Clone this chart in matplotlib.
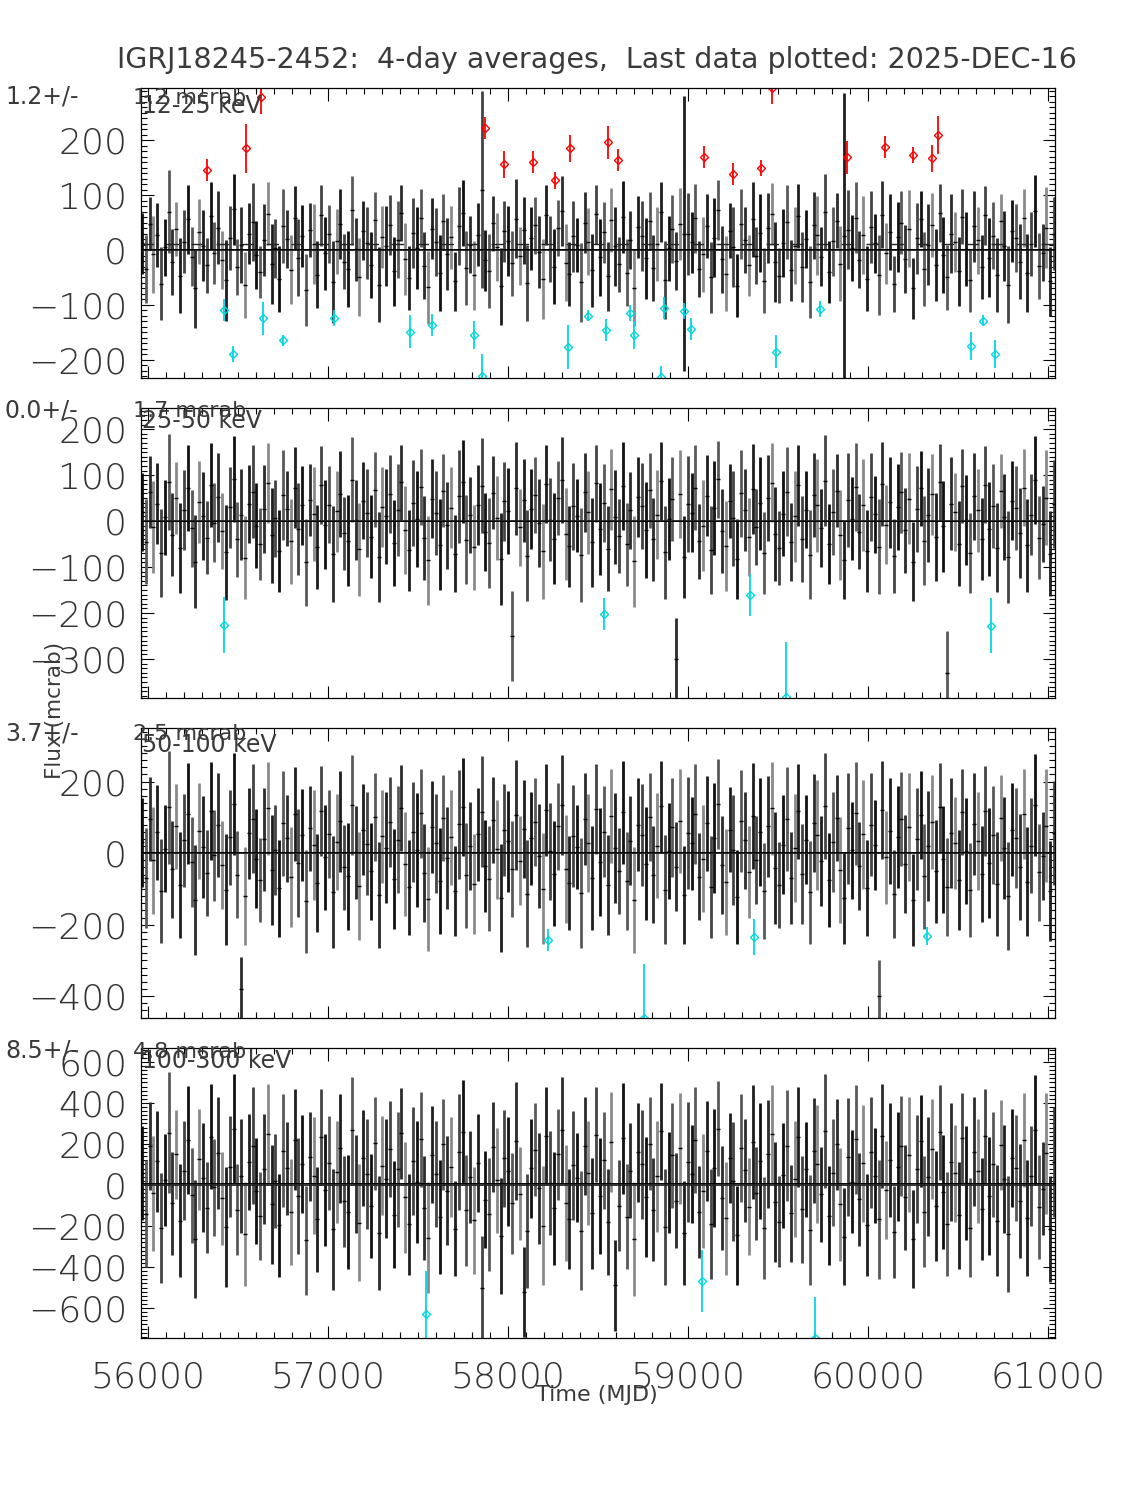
import numpy as np
import matplotlib
matplotlib.use('Agg')
import matplotlib.pyplot as plt
from matplotlib.ticker import MultipleLocator

plt.rcParams['font.family'] = ['DejaVu Sans']

title = "IGRJ18245-2452:  4-day averages,  Last data plotted: 2025-DEC-16"
bands = ["12-25 keV", "25-50 keV", "50-100 keV", "100-300 keV"]
means = [1.2, 0.0, 3.7, 8.5]
mean_errs = [1.2, 1.7, 2.5, 4.8]

# bin centres (MJD) run from first to last bin
t_first, t_last = 55965, 61035

# ---- 12-25 keV
p1_val = [12, -35, 48, -8, 27, -61, 5, 70, -22, 38, -47, 15, 56, -12, -70, 33, 8, -28, 62, -5,
          41, -18, -55, 22, 74, -31, 9, -64, 30, 51, -9, -40, 18, 66, -25, 3, -52, 44, 20, -36,
          58, -14, 26, -73, 37, 11, -45, 63, -6, 29, -58, 16, 47, -21, -34, 72, 1, -49, 35, 13,
          -27, 54, -63, 24, 8, 46, -39, 19, 67, -16, -51, 31, 4, 59, -29, -68, 39, 14, -42, 52,
          -7, 23, -57, 43, 68, -33, 10, -46, 28, 110, -19, -38, 49, 6, -66, 34, 17, -24, 57, -11,
          36, -60, 21, 45, -4, -53, 64, 2, -30, 40, 71, -23, -44, 25, 9, -59, 50, 15, -37, 65,
          -13, 32, -48, 55, 7, -26, 60, -41, 18, -69, 42, 26, -15, 53, -32, 11, 69, -54, 3, 38,
          -20, 47, 30, 29, 14, 58, -35, -8, 44, -50, 22, 73, -17, -43, 35, 5, -65, 48, 19, -28,
          56, -10, 31, -56, 40, 66, -22, -47, 13, 51, -37, 8, 62, -31, 20, -58, 45, 27, -12, 70,
          -40, 16, 53, -25, 25, 37, 4, 59, -18, 28, -52, 42, 12, -45, 64, -6, 33, -61, 24, 50,
          -16, 39, -70, 21, 57, -34, 10, 46, -27, 68, -9, -50, 30, 15, -39, 61, 2, -55, 43, 18,
          -31, 63, -14, 26, -46, 52, 7, -63, 35, 22, -21, 58, -42, 11, 71, -29, -5, 41, -57, 30]
p1_err = [55, 62, 48, 70, 58, 66, 52, 75, 60, 49, 68, 57, 63, 54, 72, 59, 65, 50, 61, 56,
          67, 53, 74, 58, 64, 51, 69, 60, 55, 71, 62, 48, 66, 57, 73, 54, 60, 68, 52, 63,
          58, 70, 56, 65, 49, 72, 61, 55, 67, 53, 74, 59, 64, 50, 69, 62, 57, 71, 54, 66,
          60, 52, 68, 57, 73, 55, 63, 70, 51, 66, 58, 64, 75, 53, 61, 67, 56, 62, 69, 50,
          65, 58, 54, 71, 60, 67, 52, 63, 57, 180, 55, 68, 50, 62, 70, 56, 64, 59, 72, 53,
          61, 69, 57, 52, 66, 73, 55, 60, 68, 51, 63, 70, 58, 65, 49, 72, 56, 61, 67, 54,
          70, 55, 63, 58, 72, 50, 66, 61, 53, 69, 57, 64, 74, 52, 60, 67, 55, 71, 59, 62,
          53, 66, 250, 74, 56, 63, 51, 69, 58, 65, 72, 54, 61, 68, 50, 73, 57, 64, 60, 55,
          68, 52, 71, 59, 64, 56, 73, 50, 62, 67, 55, 70, 58, 63, 53, 66, 61, 72, 54, 69,
          57, 63, 50, 68, 260, 72, 60, 65, 52, 71, 59, 66, 54, 73, 61, 56, 69, 51, 64, 58,
          62, 70, 56, 64, 51, 67, 73, 58, 66, 53, 69, 60, 72, 55, 63, 50, 68, 57, 65, 61,
          59, 54, 72, 61, 67, 50, 64, 70, 56, 62, 68, 53, 71, 58, 65, 60, 52, 74, 63, 66]
p1_hi_t = [56328, 56544, 56628, 57872, 57978, 58139, 58261, 58344, 58556, 58611,
           59089, 59250, 59406, 59467, 59883, 60094, 60250, 60356, 60389]
p1_hi_v = [145, 185, 278, 222, 156, 160, 127, 185, 196, 164,
           169, 138, 149, 295, 169, 187, 173, 167, 209]
p1_hi_e = [20, 45, 30, 20, 25, 20, 15, 25, 30, 20, 20, 20, 15, 30, 30, 20, 15, 25, 35]
p1_lo_t = [56422, 56472, 56639, 56750, 57033, 57456, 57578, 57811, 57856, 58333, 58444, 58544,
           58678, 58700, 58850, 58867, 58978, 59017, 59489, 59733, 60572, 60639, 60706]
p1_lo_v = [-109, -189, -124, -164, -124, -149, -136, -155, -229, -176, -120, -145,
           -115, -155, -232, -105, -111, -144, -185, -107, -175, -129, -189]
p1_lo_e = [20, 15, 30, 10, 15, 30, 20, 25, 40, 40, 10, 20, 15, 25, 20, 20, 15, 20, 30, 15, 25, 10, 25]

# ---- 25-50 keV
p2_val = [20, -45, 63, -12, 38, -70, 8, 85, -30, 50, -58, 24, 72, -16, -88, 41, 11, -36, 78, -4,
          52, -22, -68, 30, 92, -40, 14, -80, 37, 64, -10, -50, 26, 83, -31, 6, -65, 56, 27, -44,
          73, -18, 34, -90, 46, 15, -56, 79, -8, 36, -72, 21, 59, -27, -43, 90, 2, -61, 44, 17,
          -34, 68, -78, 31, 10, 58, -48, 25, 84, -20, -64, 39, 5, 74, -37, -85, 49, 18, -52, 66,
          -9, 29, -71, 54, 86, -41, 13, -57, 35, 77, -24, -47, 62, 7, -83, 43, 22, -250, 71, -14,
          45, -75, 27, 57, -5, -66, 80, 3, -38, 50, 89, -29, -55, 32, 12, -74, 63, 19, -46, 82,
          -17, 40, -60, 69, 9, -33, 76, -51, 23, -87, 53, 33, -19, 67, -40, 14, 87, -68, 4, 48,
          -300, 59, -78, 37, 18, 73, -44, -10, 55, -63, 28, 91, -21, -54, 44, 6, -82, 60, 24, -35,
          70, -13, 39, -70, 50, 83, -28, -59, 16, 64, -46, 10, 78, -39, 25, -73, 56, 34, -15, 88,
          -50, 20, 66, -31, -84, 46, 5, 74, -23, 35, -65, 53, 15, -56, 80, -8, 41, -76, 30, 63,
          -20, 49, -88, 26, 71, -43, 13, 58, -34, 85, -11, -330, 38, 19, -49, 76, 3, -69, 54, 23,
          -39, 79, -18, 33, -58, 65, 9, -79, 44, 28, -26, 73, -53, 14, 89, -36, -6, 51, -71, 37]
p2_err = [85, 92, 78, 100, 88, 96, 82, 105, 90, 79, 98, 87, 93, 84, 102, 89, 95, 80, 91, 86,
          97, 83, 104, 88, 94, 81, 99, 90, 85, 101, 92, 78, 96, 87, 103, 84, 90, 98, 82, 93,
          88, 100, 86, 95, 79, 102, 91, 85, 97, 83, 104, 89, 94, 80, 99, 92, 87, 101, 84, 96,
          90, 82, 98, 87, 103, 85, 93, 100, 81, 96, 88, 94, 105, 83, 91, 97, 86, 92, 99, 80,
          95, 88, 84, 101, 90, 97, 82, 93, 87, 104, 85, 98, 80, 92, 100, 86, 94, 98, 102, 83,
          91, 99, 87, 82, 96, 103, 85, 90, 98, 81, 93, 100, 88, 95, 79, 102, 86, 91, 97, 84,
          100, 85, 93, 88, 102, 80, 96, 91, 83, 99, 87, 94, 104, 82, 90, 97, 85, 101, 89, 92,
          90, 96, 90, 104, 86, 93, 81, 99, 88, 95, 102, 84, 91, 98, 80, 103, 87, 94, 90, 85,
          98, 82, 101, 89, 94, 86, 103, 80, 92, 97, 85, 100, 88, 93, 83, 96, 91, 102, 84, 99,
          87, 93, 80, 98, 85, 102, 90, 95, 82, 101, 89, 96, 84, 103, 91, 86, 99, 81, 94, 88,
          92, 100, 86, 94, 81, 97, 103, 88, 96, 83, 99, 90, 102, 85, 93, 80, 98, 87, 95, 91,
          89, 84, 102, 91, 97, 80, 94, 100, 86, 92, 98, 83, 101, 88, 95, 90, 82, 104, 93, 96]
p2_hi_t, p2_hi_v, p2_hi_e = [], [], []
p2_lo_t = [56422, 58533, 59344, 59544, 60683]
p2_lo_v = [-226, -202, -161, -383, -228]
p2_lo_e = [60, 35, 45, 120, 60]

# ---- 50-100 keV
p3_val = [30, -70, 95, -20, 58, -105, 12, 128, -45, 75, -88, 36, 110, -25, -132, 62, 17, -55, 118, -6,
          78, -33, -102, 45, 138, -60, -380, -120, 56, 96, -15, -75, 39, 125, -47, 9, -98, 84, 41, -66,
          110, -27, 51, -135, 69, 23, -84, 118, -12, 54, -108, 32, 89, -40, -65, 135, 3, -92, 66, 26,
          -51, 102, -117, 47, 15, 87, -72, 38, 126, -30, -96, 59, 8, 111, -56, -128, 74, 27, -78, 99,
          -14, 44, -107, 81, 129, -62, 20, -86, 53, 116, -36, -71, 93, 11, -125, 65, 33, -45, 107, -21,
          68, -113, 41, 86, -8, -99, 120, 5, -57, 75, 134, -44, -83, 48, 18, -111, 95, 29, -69, 123,
          -26, 60, -90, 104, 14, -50, 114, -77, 35, -131, 80, 50, -29, 101, -60, 21, 131, -102, 6, 72,
          -38, 89, -117, 56, 27, 110, -66, -15, 83, -95, 42, 137, -32, -81, 66, 9, -123, 90, 36, -53,
          105, -20, 59, -105, 75, 125, -42, -89, 24, 96, -69, 15, 117, -59, 38, -110, 84, 51, -23, 132,
          -75, 30, 99, -47, -126, 69, 8, 111, -35, 53, -98, 80, 23, -400, 120, -12, 62, -114, 45, 95,
          -30, 74, -132, 39, 107, -65, 20, 87, -51, 128, -17, -95, 57, 29, -74, 114, 5, -104, 81, 35,
          -59, 119, -27, 50, -87, 98, 14, -119, 66, 42, -39, 110, -80, 21, 134, -54, -9, 77, -107, 56]
p3_err = [125, 140, 118, 150, 132, 145, 122, 158, 136, 119, 148, 130, 141, 126, 154, 134, 143, 120, 138, 128,
          146, 124, 156, 133, 142, 121, 90, 137, 127, 152, 139, 117, 144, 131, 155, 125, 136, 147, 123, 140,
          132, 151, 129, 143, 118, 153, 137, 127, 146, 124, 157, 134, 142, 120, 149, 139, 130, 152, 126, 144,
          136, 123, 148, 131, 155, 127, 140, 150, 121, 145, 133, 141, 159, 125, 137, 146, 129, 139, 149, 120,
          143, 132, 126, 152, 136, 146, 122, 140, 130, 156, 128, 148, 120, 139, 151, 129, 142, 134, 153, 124,
          137, 149, 131, 123, 145, 155, 128, 136, 148, 121, 140, 151, 132, 143, 118, 154, 129, 137, 146, 126,
          151, 128, 140, 132, 154, 120, 145, 137, 125, 149, 131, 142, 157, 123, 136, 146, 128, 152, 134, 139,
          125, 145, 136, 157, 129, 140, 122, 149, 132, 143, 154, 126, 137, 148, 120, 155, 131, 142, 136, 128,
          148, 123, 152, 134, 142, 129, 156, 120, 138, 146, 128, 151, 132, 140, 125, 145, 137, 154, 126, 149,
          131, 140, 120, 148, 128, 154, 136, 143, 123, 152, 134, 145, 126, 100, 137, 129, 149, 122, 142, 132,
          138, 151, 129, 142, 122, 146, 155, 132, 145, 125, 149, 136, 154, 128, 140, 120, 148, 131, 143, 137,
          134, 126, 154, 137, 146, 120, 142, 151, 129, 139, 148, 125, 152, 132, 143, 136, 123, 157, 140, 145]
p3_hi_t, p3_hi_v, p3_hi_e = [], [], []
p3_lo_t = [58222, 58756, 59367, 60328]
p3_lo_v = [-243, -461, -235, -232]
p3_lo_e = [30, 150, 50, 25]

# ---- 100-300 keV
p4_val = [60, -140, 190, -40, 115, -210, 25, 255, -90, 150, -175, 70, 220, -50, -265, 125, 35, -110, 235, -12,
          155, -65, -205, 90, 275, -120, 42, -240, 112, 192, -30, -150, 78, 250, -94, 18, -196, 168, 82, -132,
          220, -54, 102, -270, 138, 46, -168, 236, -24, 108, -216, 64, 178, -80, -130, 270, 6, -184, 132, 52,
          -102, 204, -234, 94, 30, 174, -144, 76, 252, -60, -192, 118, 16, 222, -112, -256, 148, 54, -156, 198,
          -28, 88, -214, 162, 258, -124, 40, -172, 106, -500, -72, -142, 186, 22, -250, 130, 66, -90, 214, -42,
          -520, -226, 82, 172, -16, -198, 240, 10, -114, 150, 268, -88, -166, 96, 36, -222, 190, 58, -138, 246,
          -52, 120, -180, 208, -490, -100, 228, -154, 70, -262, 160, 100, -58, 202, -120, 42, 262, -204, 12, 144,
          -76, 178, -234, 112, 54, 220, -132, -30, 166, -190, 84, 274, -64, -162, 132, 18, -246, 180, 72, -106,
          210, -40, 118, -210, 150, 250, -84, -178, 48, 192, -138, 30, 234, -118, 76, -220, 168, 102, -46, 264,
          -150, 60, 198, -94, -252, 138, 16, 222, -70, 106, -196, 160, 46, -168, 240, -24, 124, -228, 90, 190,
          -60, 148, -264, 78, 214, -130, 40, 174, -102, 256, -34, -190, 114, 58, -148, 228, 10, -208, 162, 70,
          -118, 238, -54, 100, -174, 196, 28, -238, 132, 84, -78, 220, -160, 42, 268, -108, -18, 154, -214, 112]
p4_err = [230, 260, 215, 280, 245, 270, 225, 295, 252, 218, 275, 240, 262, 232, 288, 248, 266, 220, 256, 236,
          272, 228, 292, 246, 264, 222, 278, 254, 234, 284, 258, 214, 268, 242, 290, 230, 252, 274, 226, 260,
          246, 282, 238, 266, 216, 286, 254, 234, 272, 228, 294, 248, 264, 220, 278, 258, 240, 284, 232, 268,
          252, 226, 276, 242, 290, 234, 260, 280, 222, 270, 246, 262, 298, 230, 254, 272, 238, 258, 278, 220,
          266, 244, 232, 284, 252, 272, 224, 260, 240, 250, 236, 276, 220, 258, 282, 238, 264, 248, 286, 228,
          220, 278, 242, 226, 270, 290, 236, 252, 276, 222, 260, 282, 244, 266, 216, 288, 238, 254, 272, 232,
          282, 236, 260, 244, 220, 220, 270, 254, 230, 278, 242, 264, 294, 226, 252, 272, 236, 284, 248, 258,
          230, 270, 252, 294, 238, 260, 224, 278, 244, 266, 288, 232, 254, 276, 220, 290, 242, 264, 252, 236,
          276, 226, 284, 248, 264, 238, 292, 220, 256, 272, 236, 282, 244, 260, 230, 270, 254, 288, 232, 278,
          242, 260, 220, 276, 236, 288, 252, 266, 226, 284, 248, 270, 232, 292, 254, 238, 278, 224, 264, 244,
          256, 282, 238, 264, 224, 272, 290, 244, 270, 230, 278, 252, 288, 236, 260, 220, 276, 242, 266, 254,
          248, 232, 288, 254, 272, 220, 264, 282, 238, 258, 276, 230, 284, 244, 266, 252, 226, 294, 260, 270]
p4_hi_t, p4_hi_v, p4_hi_e = [], [], []
p4_lo_t = [57544, 59078, 59706]
p4_lo_v = [-629, -468, -746]
p4_lo_e = [210, 150, 200]

ylims = [(-233, 295), (-385, 246), (-461, 350), (-746, 668)]
ymajor = [100, 100, 200, 200]
shades = ['#111111', '#5a5a5a', '#2c2c2c', '#8a8a8a', '#1e1e1e', '#444444']

W, H = 1125, 1500
fig = plt.figure(figsize=(W / 100, H / 100), dpi=100)

panels = [(p1_val, p1_err, p1_hi_t, p1_hi_v, p1_hi_e, p1_lo_t, p1_lo_v, p1_lo_e),
          (p2_val, p2_err, p2_hi_t, p2_hi_v, p2_hi_e, p2_lo_t, p2_lo_v, p2_lo_e),
          (p3_val, p3_err, p3_hi_t, p3_hi_v, p3_hi_e, p3_lo_t, p3_lo_v, p3_lo_e),
          (p4_val, p4_err, p4_hi_t, p4_hi_v, p4_hi_e, p4_lo_t, p4_lo_v, p4_lo_e)]
tops = [88, 408, 728, 1048]
txt_base = [104, 417, 740, 1058]
keV_base = [113, 428, 752, 1068]
tc = '#3a3a3a'

for i, (val, err, ht, hv, he, lt, lv, le) in enumerate(panels):
    top = tops[i]
    ax = fig.add_axes([141 / W, 1 - (top + 290) / H, 914 / W, 290 / H])
    val = np.array(val, float)
    err = np.array(err, float)
    t = np.linspace(t_first, t_last, len(val))
    cols = [shades[k % len(shades)] for k in range(len(val))]
    ax.vlines(t, val - err, val + err, colors=cols, linewidth=2.0)
    ax.plot(t, val, '_', ms=2.5, color='k', mew=1)
    ax.axhline(0, color='#222222', lw=1.3)
    ax.axhline(means[i], color='k', lw=0.7)
    if i == 0:
        ax.axhline(11, color='#222222', lw=1.0, dashes=(9, 9))
    if ht:
        ax.errorbar(ht, hv, yerr=he, fmt='D', mfc='none', mec='red', ecolor='red',
                    ms=4.5, mew=1, elinewidth=1.3, capsize=0)
    if lt:
        ax.errorbar(lt, lv, yerr=le, fmt='D', mfc='none', mec='#00d8e0', ecolor='#00d8e0',
                    ms=4.5, mew=1, elinewidth=1.3, capsize=0)
    ax.set_xlim(55960, 61040)
    ax.set_ylim(*ylims[i])
    ax.xaxis.set_major_locator(MultipleLocator(1000))
    ax.xaxis.set_minor_locator(MultipleLocator(100))
    ax.yaxis.set_major_locator(MultipleLocator(ymajor[i]))
    ax.yaxis.set_minor_locator(MultipleLocator(ymajor[i] / 10))
    ax.tick_params(which='both', direction='in', top=True, right=True, width=0.8)
    ax.tick_params(which='major', length=9, labelsize=26, pad=10)
    ax.tick_params(which='minor', length=4.5)
    for lab in ax.get_yticklabels() + ax.get_xticklabels():
        lab.set_fontweight('light')
        lab.set_color('#333333')
    if i < 3:
        ax.tick_params(labelbottom=False)
    else:
        ax.tick_params(axis='x', pad=16)
    for s in ax.spines.values():
        s.set_linewidth(0.9)

    fig.text(5 / W, 1 - txt_base[i] / H, f"{means[i]:.1f}+/-", fontsize=17, color=tc)
    fig.text(133 / W, 1 - txt_base[i] / H, f"{mean_errs[i]:.1f} mcrab", fontsize=16, color=tc)
    fig.text(142 / W, 1 - keV_base[i] / H, bands[i], fontsize=17, color=tc)

fig.text(597 / W, 1 - 68 / H, title, ha='center', fontsize=20.5, color=tc)
fig.text(597 / W, 1 - 1401 / H, "Time (MJD)", ha='center', fontsize=16, color=tc)
fig.text(55 / W, 1 - 710 / H, "Flux (mcrab)", rotation=90, ha='center', va='center',
         fontsize=15.5, color=tc)

fig.savefig('out.png', dpi=100)
